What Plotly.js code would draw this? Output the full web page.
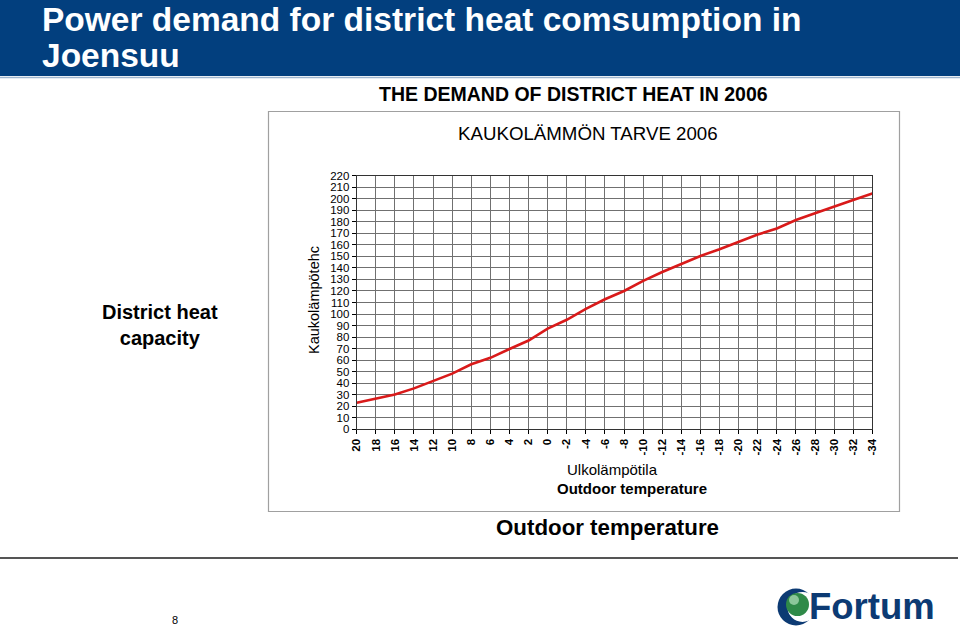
<!DOCTYPE html>
<html>
<head>
<meta charset="utf-8">
<script src="https://cdn.plot.ly/plotly-3.0.1.min.js"></script>
<style>html,body{margin:0;padding:0;background:#fff;}#chart{width:960px;height:629px;}</style>
</head>
<body>
<div id="chart"></div>
<script>
// Outdoor temperature (°C) categories and district heat demand
const temps = [20,18,16,14,12,10,8,6,4,2,0,-2,-4,-6,-8,-10,-12,-14,-16,-18,-20,-22,-24,-26,-28,-30,-32,-34];
const tempLabels = ["20","18","16","14","12","10","8","6","4","2","0","-2","-4","-6","-8","-10","-12","-14","-16","-18","-20","-22","-24","-26","-28","-30","-32","-34"];
const demand = [23,26.5,30.2,35.5,42,48.3,56.4,62,69.7,77,87.3,95,104.4,112.8,120,128.7,136.5,143.4,150.4,156.2,162.8,168.9,174.2,181.6,187.4,193.5,199,204.5];
const yTicks = [0,10,20,30,40,50,60,70,80,90,100,110,120,130,140,150,160,170,180,190,200,210,220];

const W = 960, H = 629;
const px = x => x / W;
const py = y => 1 - y / H;
const FONT = 'Liberation Sans, Arial, sans-serif';

const trace = {
  x: temps, y: demand, type: 'scatter', mode: 'lines',
  line: {color: '#d91a1a', width: 2.6},
  hoverinfo: 'x+y'
};

function circ(cx, cy, r, fill) {
  return {type: 'circle', xref: 'paper', yref: 'paper',
    x0: px(cx - r), x1: px(cx + r), y0: py(cy + r), y1: py(cy - r),
    fillcolor: fill, line: {width: 0}, layer: 'above'};
}

const shapes = [
  {type: 'rect', xref: 'paper', yref: 'paper', x0: 0, x1: 1, y0: py(76), y1: 1,
   fillcolor: '#023f7e', line: {width: 0}, layer: 'below'},
  {type: 'line', xref: 'paper', yref: 'paper', x0: 0, x1: 1, y0: py(77.5), y1: py(77.5),
   line: {color: '#9fb6cf', width: 1.5}},
  {type: 'rect', xref: 'paper', yref: 'paper', x0: px(268.5), x1: px(899.5), y0: py(511.5), y1: py(111.5),
   fillcolor: 'rgba(0,0,0,0)', line: {color: '#a0a0a0', width: 1.2}, layer: 'below'},
  {type: 'line', xref: 'paper', yref: 'paper', x0: 0, x1: px(958), y0: py(558), y1: py(558),
   line: {color: '#555555', width: 2}},
  circ(796, 607, 18.5, '#0c3a73'),
  circ(802.5, 607, 15, '#ffffff'),
  circ(797.5, 604.5, 11.5, '#2f8a48'),
  circ(794, 600, 5, '#8cc79a')
];

const annotations = [
  {text: '<b>Power demand for district heat comsumption in</b>', x: px(41), y: 1, xanchor: 'left', yanchor: 'top',
   borderpad: 0, font: {family: FONT, size: 33.5, color: '#ffffff'}},
  {text: '<b>Joensuu</b>', x: px(41), y: py(75), xanchor: 'left', yanchor: 'bottom',
   borderpad: 0, font: {family: FONT, size: 33.5, color: '#ffffff'}},
  {text: '<b>THE DEMAND OF DISTRICT HEAT IN 2006</b>', x: px(573), y: py(94), xanchor: 'center', yanchor: 'middle',
   font: {family: FONT, size: 19.5, color: '#000000'}},
  {text: 'KAUKOLÄMMÖN TARVE 2006', x: px(588), y: py(133), xanchor: 'center', yanchor: 'middle',
   font: {family: FONT, size: 18.7, color: '#000000'}},
  {text: 'Kaukolämpötehc', x: px(314), y: py(300), xanchor: 'center', yanchor: 'middle', textangle: -90,
   font: {family: FONT, size: 14.5, color: '#000000'}},
  {text: 'Ulkolämpötila', x: px(612), y: py(469), xanchor: 'center', yanchor: 'middle',
   font: {family: FONT, size: 15, color: '#000000'}},
  {text: '<b>Outdoor temperature</b>', x: px(632), y: py(488), xanchor: 'center', yanchor: 'middle',
   font: {family: FONT, size: 15, color: '#000000'}},
  {text: '<b>District heat<br>capacity</b>', x: px(160), y: py(325), xanchor: 'center', yanchor: 'middle',
   font: {family: FONT, size: 20, color: '#000000'}},
  {text: '<b>Outdoor temperature</b>', x: px(607), y: py(527), xanchor: 'center', yanchor: 'middle',
   font: {family: FONT, size: 22.3, color: '#000000'}},
  {text: '8', x: px(175), y: py(620), xanchor: 'center', yanchor: 'middle',
   font: {family: FONT, size: 11, color: '#000000'}},
  {text: '<b>Fortum</b>', x: px(807), y: py(606), xanchor: 'left', yanchor: 'middle',
   font: {family: FONT, size: 36.5, color: '#0c3a73'}}
];
annotations.forEach(a => { a.xref = 'paper'; a.yref = 'paper'; a.showarrow = false; });

const layout = {
  width: W, height: H,
  margin: {l: 0, r: 0, t: 0, b: 0},
  paper_bgcolor: '#ffffff', plot_bgcolor: '#ffffff',
  showlegend: false,
  xaxis: {
    domain: [px(356.7), px(872.3)], range: [20, -34],
    tickmode: 'array', tickvals: temps, ticktext: tempLabels,
    tickangle: -90,
    tickfont: {family: FONT, size: 11.5, color: '#000000', weight: 'bold'},
    ticks: 'outside', ticklen: 4, tickcolor: '#000000',
    showgrid: true, gridcolor: '#707070', gridwidth: 1,
    showline: true, linecolor: '#333333', linewidth: 1, mirror: true,
    zeroline: false, fixedrange: true
  },
  yaxis: {
    domain: [py(429.3), py(175.7)], range: [0, 220],
    tickmode: 'array', tickvals: yTicks,
    tickfont: {family: FONT, size: 11.5, color: '#000000'},
    ticks: 'outside', ticklen: 4, tickcolor: '#000000',
    showgrid: true, gridcolor: '#707070', gridwidth: 1,
    showline: true, linecolor: '#333333', linewidth: 1, mirror: true,
    zeroline: false, fixedrange: true
  },
  shapes: shapes,
  annotations: annotations
};

Plotly.newPlot('chart', [trace], layout, {displayModeBar: false, staticPlot: true});
</script>
</body>
</html>
